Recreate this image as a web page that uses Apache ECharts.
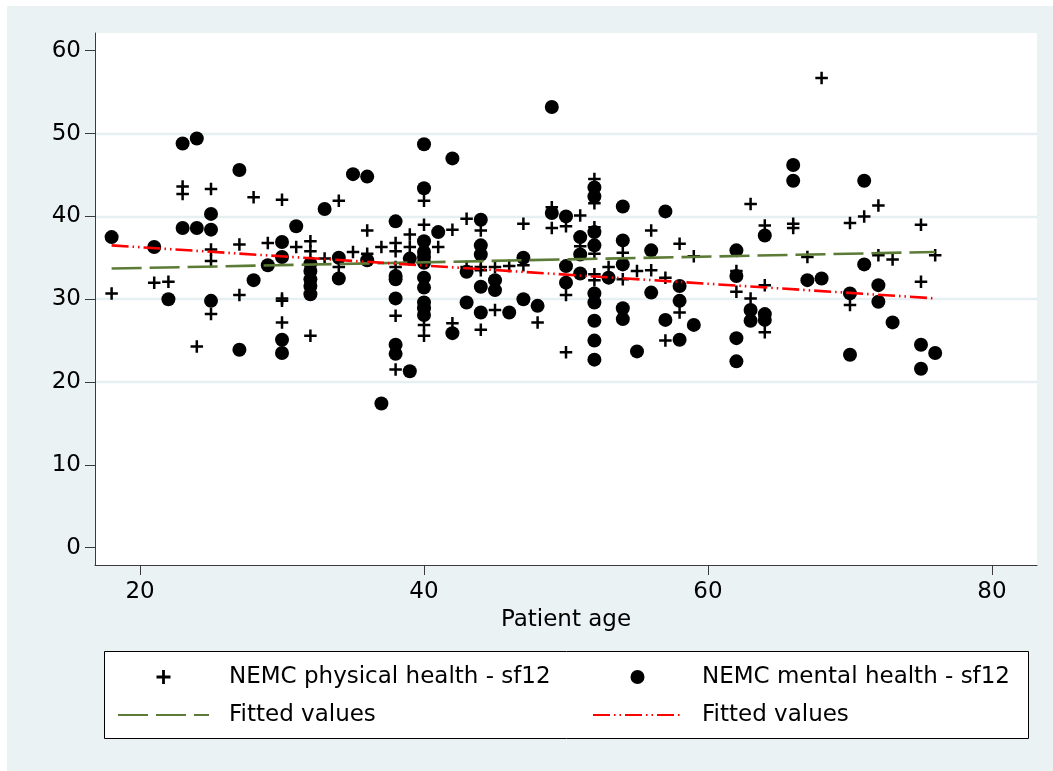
<!DOCTYPE html>
<html>
<head>
<meta charset="utf-8">
<title>NEMC SF-12 by patient age</title>
<script src="https://cdn.jsdelivr.net/npm/echarts@6/dist/echarts.min.js"></script>
<style>
  html, body { margin: 0; padding: 0; background: #ffffff; }
  #backdrop { position: absolute; left: 7px; top: 6px; width: 1046px; height: 765px; background: #eaf2f3; }
  #chart { position: absolute; left: 0; top: 0; width: 1053px; height: 771px; }
</style>
</head>
<body>
<div id="backdrop"></div>
<div id="chart"></div>
<script>
// SF-12 physical component score by patient age: [age, score]
const physicalPoints = [
  [18,30.7],[21,32.0],[22,32.1],[23,43.6],[23,42.7],[24,24.3],
  [25,43.3],[25,36.0],[25,34.6],[25,28.2],[27,36.6],[27,30.5],[28,42.3],[29,36.8],
  [30,42.0],[30,30.1],[30,29.8],[30,27.2],[31,36.3],[32,37.0],[32,35.8],[32,25.6],
  [33,34.9],[34,41.9],[34,33.9],[35,35.7],[36,38.3],[36,35.5],[37,36.3],
  [38,36.8],[38,35.8],[38,33.9],[38,28.0],[38,21.5],[39,37.8],[39,36.3],
  [40,41.9],[40,39.0],[40,26.9],[40,25.6],[41,36.3],[42,38.4],[42,27.1],
  [43,39.7],[43,33.9],[44,38.3],[44,33.9],[44,33.5],[44,26.3],[45,33.9],[45,28.7],
  [46,34.0],[47,39.1],[47,34.1],[48,27.2],[49,41.1],[49,38.6],[50,38.8],[50,30.5],[50,23.6],
  [51,40.1],[51,36.4],[52,44.5],[52,41.6],[52,38.7],[52,35.5],[52,33.0],[52,32.3],
  [53,33.9],[54,35.6],[54,32.4],[55,33.4],[56,38.3],[56,33.5],[57,32.6],[57,25.0],
  [58,36.7],[58,28.4],[59,35.2],[62,33.4],[62,30.9],[63,41.5],[63,30.1],
  [64,38.9],[64,31.7],[64,26.0],[66,39.1],[66,38.6],[67,35.1],[68,56.7],
  [70,39.2],[70,29.3],[71,40.0],[72,41.3],[72,35.3],[73,34.8],[75,39.0],[75,32.1],[76,35.3]
];

// SF-12 mental component score by patient age: [age, score]
const mentalPoints = [
  [18,37.5],[21,36.3],[22,30.0],[23,48.8],[23,38.6],[24,49.4],[24,38.6],
  [25,40.3],[25,38.4],[25,29.8],[27,45.6],[27,23.9],[28,32.3],[29,34.1],
  [30,36.9],[30,35.1],[30,25.1],[30,23.5],[31,38.8],
  [32,34.3],[32,33.4],[32,32.4],[32,31.6],[32,30.6],[33,40.9],[34,35.0],[34,32.5],
  [35,45.1],[36,44.8],[36,34.7],[37,17.4],
  [38,39.4],[38,32.8],[38,32.4],[38,30.1],[38,24.5],[38,23.4],[39,34.9],[39,21.3],
  [40,48.7],[40,43.4],[40,37.0],[40,35.7],[40,35.1],[40,34.4],[40,32.6],[40,31.4],
  [40,29.6],[40,28.9],[40,28.1],[41,38.1],[42,47.0],[42,25.9],[43,33.3],[43,29.6],
  [44,39.6],[44,36.5],[44,35.4],[44,31.5],[44,28.4],[45,32.3],[45,31.1],[46,28.4],
  [47,35.0],[47,30.0],[48,29.2],[49,53.2],[49,40.4],[50,40.0],[50,34.0],[50,32.0],
  [51,37.5],[51,35.4],[51,33.1],
  [52,43.5],[52,42.4],[52,38.1],[52,36.5],[52,30.7],[52,29.6],[52,27.4],[52,25.0],[52,22.7],
  [53,32.6],[54,41.2],[54,37.1],[54,34.2],[54,28.9],[54,27.6],[55,23.7],
  [56,35.9],[56,30.8],[57,40.6],[57,27.5],[58,31.6],[58,29.8],[58,25.1],[59,26.9],
  [62,35.9],[62,32.8],[62,25.3],[62,22.5],[63,28.7],[63,27.4],[64,37.7],[64,28.2],[64,27.5],
  [66,46.2],[66,44.3],[67,32.3],[68,32.5],[70,30.7],[70,23.3],[71,44.3],[71,34.2],
  [72,31.7],[72,29.7],[73,27.2],[75,24.5],[75,21.6],[76,23.5]
];

// Linear fits: end points over the observed age range
const fitAges = [18, 76];
const fitPhysical = [33.7, 35.7];
const fitMental = [36.5, 30.1];

// Axis ticks and grid lines
const xTicks = [20, 40, 60, 80];
const yTicks = [0, 10, 20, 30, 40, 50, 60];
const yGridLines = [10, 20, 30, 40, 50, 60];

const legendLabels = {
  physical: 'NEMC physical health - sf12',
  mental: 'NEMC mental health - sf12',
  fitPhysical: 'Fitted values',
  fitMental: 'Fitted values'
};

const FONT = "'DejaVu Sans', sans-serif";
const PLUS = 'path://M4.8,0h2.4v4.8h4.8v2.4h-4.8v4.8h-2.4v-4.8h-4.8v-2.4h4.8z';
const AXIS_COLOR = '#3a3a3a';
const GRID_COLOR = '#e6eff1';

const chart = echarts.init(document.getElementById('chart'), null, { renderer: 'canvas' });

const legendBase = {
  orient: 'vertical',
  top: 664,
  padding: 0,
  itemHeight: 14,
  itemGap: 12,
  selectedMode: false,
  textStyle: { fontFamily: FONT, fontSize: 23, color: '#000', lineHeight: 26, padding: [0, 0, 0, 15] },
  formatter: name => legendLabels[name]
};

chart.setOption({
  animation: false,
  backgroundColor: 'transparent',
  textStyle: { fontFamily: FONT },
  grid: {
    left: 95, top: 33, right: 16, bottom: 206,
    show: true, backgroundColor: '#ffffff', borderWidth: 0,
    containLabel: false, outerBoundsMode: 'none'
  },
  graphic: [{
    type: 'rect', z: -1, silent: true,
    shape: { x: 104.5, y: 651.5, width: 924, height: 87 },
    style: { fill: '#ffffff', stroke: '#000000', lineWidth: 1 }
  }],
  legend: [
    Object.assign({}, legendBase, {
      left: 117, itemWidth: 91,
      data: [
        { name: 'physical' },
        { name: 'fitPhysical', itemStyle: { color: 'transparent', borderColor: 'transparent', borderWidth: 0 } }
      ]
    }),
    Object.assign({}, legendBase, {
      left: 592, itemWidth: 89,
      data: [
        { name: 'mental' },
        { name: 'fitMental', itemStyle: { color: 'transparent', borderColor: 'transparent', borderWidth: 0 } }
      ]
    })
  ],
  xAxis: {
    type: 'value', min: 16.83, max: 83.17,
    name: 'Patient age', nameLocation: 'middle', nameGap: 44,
    nameTextStyle: { fontFamily: FONT, fontSize: 23, color: '#000' },
    axisLine: { show: true, onZero: false, lineStyle: { color: AXIS_COLOR, width: 1 } },
    axisTick: { show: true, inside: false, length: 10, customValues: xTicks, lineStyle: { color: AXIS_COLOR, width: 1 } },
    axisLabel: { customValues: xTicks, margin: 16, fontFamily: FONT, fontSize: 23, color: '#000' },
    splitLine: { show: false }
  },
  yAxis: [{
    type: 'value', min: -2.09, max: 62.14,
    axisLine: { show: true, onZero: false, lineStyle: { color: AXIS_COLOR, width: 1 } },
    axisTick: { show: true, inside: false, length: 10, customValues: yTicks, lineStyle: { color: AXIS_COLOR, width: 1 } },
    axisLabel: { customValues: yTicks, margin: 14, fontFamily: FONT, fontSize: 23, color: '#000' },
    splitLine: { show: false }
  }, {
    type: 'value', min: -2.09, max: 62.14, position: 'left',
    axisLine: { show: false },
    axisTick: { show: false, customValues: yGridLines },
    axisLabel: { show: false, customValues: yGridLines },
    splitLine: { show: true, showMinLine: false, showMaxLine: false, lineStyle: { color: GRID_COLOR, width: 2.4 } }
  }],
  series: [
    {
      name: 'physical', type: 'scatter', z: 2,
      data: physicalPoints,
      symbol: PLUS, symbolSize: 12.5,
      itemStyle: { color: '#000000', opacity: 1 }
    },
    {
      name: 'mental', type: 'scatter', z: 2,
      data: mentalPoints,
      symbol: 'circle', symbolSize: 14,
      itemStyle: { color: '#000000', opacity: 1 }
    },
    {
      name: 'fitPhysical', type: 'line', z: 3,
      data: fitAges.map((a, i) => [a, fitPhysical[i]]),
      symbol: 'none',
      lineStyle: { color: '#5b7b36', width: 2.6, type: [30, 8] }
    },
    {
      name: 'fitMental', type: 'line', z: 3,
      data: fitAges.map((a, i) => [a, fitMental[i]]),
      symbol: 'none',
      lineStyle: { color: '#ff0000', width: 2.6, type: [17, 4, 1.5, 4, 1.5, 4] }
    }
  ]
});
</script>
</body>
</html>
